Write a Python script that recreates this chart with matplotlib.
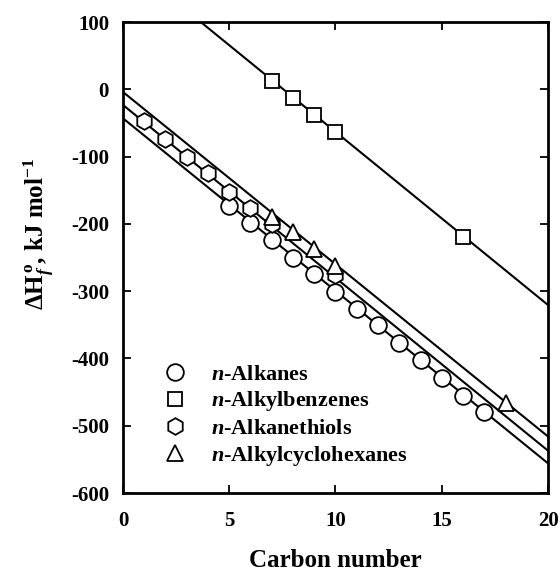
import numpy as np
import matplotlib
matplotlib.use('Agg')
import matplotlib.pyplot as plt

plt.rcParams['font.family'] = 'Liberation Serif'
plt.rcParams['font.weight'] = 'bold'
plt.rcParams['axes.unicode_minus'] = False
plt.rcParams['mathtext.fontset'] = 'custom'
plt.rcParams['mathtext.rm'] = 'Liberation Serif:bold'
plt.rcParams['mathtext.it'] = 'Liberation Serif:bold:italic'
plt.rcParams['mathtext.bf'] = 'Liberation Serif:bold'

# data (kJ/mol, liquid)
alkane_c = [5, 6, 7, 8, 9, 10, 11, 12, 13, 14, 15, 16, 17]
alkane_h = [-173.5, -198.7, -224.2, -250.1, -274.7, -300.9, -327.2, -350.9,
            -377.7, -402.0, -428.8, -456.1, -480.0]

benz_c = [7, 8, 9, 10, 16]
benz_h = [12.4, -12.3, -38.3, -63.2, -219.0]

thiol_c = [1, 2, 3, 4, 5, 6, 7, 10]
thiol_h = [-46.6, -73.2, -100.0, -125.0, -152.0, -176.5, -200.5, -276.5]

chex_c = [7, 8, 9, 10, 18]
chex_h = [-190.1, -211.9, -237.4, -263.1, -466.0]

# fitted lines: intercept, slope
line_alkane = (-43.1, -25.64)
line_benz = (194.2, -25.74)
line_thiol = (-23.3, -25.69)
line_chex = (-4.0, -25.6)

fig = plt.figure(figsize=(5.6, 5.73), dpi=100)
ax = fig.add_axes([0.2196, 0.1396, 0.759, 0.822])

xx = np.array([0, 20])
for b, m in [line_alkane, line_benz, line_thiol, line_chex]:
    ax.plot(xx, b + m * xx, color='black', lw=1.5, zorder=1)

mk = dict(color='black', mfc='white', mec='black', mew=1.3, ls='none')
ax.plot(alkane_c, alkane_h, marker='o', ms=12, label='$n$-Alkanes', zorder=2, **mk)
ax.plot(benz_c, benz_h, marker='s', ms=10.5, label='$n$-Alkylbenzenes', zorder=3, **mk)
ax.plot(thiol_c, thiol_h, marker='h', ms=12, label='$n$-Alkanethiols', zorder=4, **mk)
ax.plot(chex_c, chex_h, marker='^', ms=11.5, label='$n$-Alkylcyclohexanes', zorder=5, **mk)

ax.set_xlim(0, 20)
ax.set_ylim(-600, 100)
ax.set_xticks([0, 5, 10, 15, 20])
ax.set_yticks(np.arange(-600, 101, 100))
ax.tick_params(direction='in', length=6, width=1.3, top=True, right=True,
               labelsize=15, pad=10)
ax.tick_params(axis='x', pad=13)
for lab in ax.get_xticklabels() + ax.get_yticklabels():
    lab.set_fontweight('bold')
for s in ax.spines.values():
    s.set_linewidth(2)

ax.set_xlabel('Carbon number', fontsize=18, fontweight='bold')
ax.set_ylabel(r'$\Delta$H$_f^{\,\mathrm{o}}$, kJ mol$^{-1}$', fontsize=18,
              fontweight='bold')
ax.xaxis.set_label_coords(0.5, -0.118)
ax.yaxis.set_label_coords(-0.157, 0.55)

ax.legend(loc='lower left', bbox_to_anchor=(0.008, -0.003), frameon=False,
          fontsize=16, handletextpad=0.6, labelspacing=0.22, borderaxespad=0.8)

fig.savefig('out.png', dpi=100)
